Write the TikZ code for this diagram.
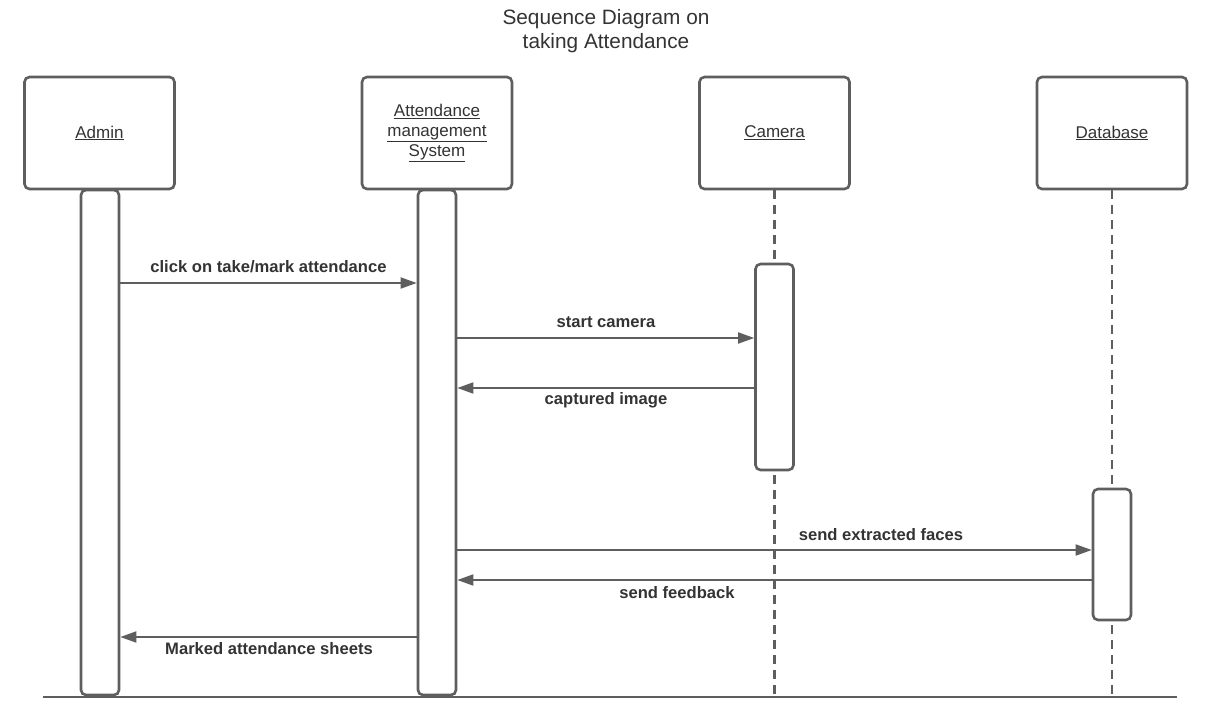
\documentclass[tikz,border=0pt]{standalone}
\usepackage{fontspec}
\setmainfont{Liberation Sans}
\usetikzlibrary{arrows.meta}
\definecolor{ln}{HTML}{5E5E5E}
\definecolor{tx}{HTML}{333333}
\tikzset{
  head/.style={draw=ln, line width=2.6pt, rounded corners=5pt, fill=white, minimum width=150pt, minimum height=112pt, inner sep=0pt, align=center, font=\fontsize{17}{20}\selectfont, text=tx},
  actbar/.style={draw=ln, line width=2.6pt, rounded corners=5pt, fill=white, minimum width=38pt, inner sep=0pt},
  life/.style={draw=ln, line width=2.6pt, dash pattern=on 9pt off 6pt},
  msg/.style={draw=ln, line width=1.8pt, -{Triangle[length=16pt,width=11pt]}},
  lbl/.style={font=\bfseries\fontsize{16.6}{19}\selectfont, text=tx, inner sep=0pt},
}
\begin{document}
\begin{tikzpicture}[x=1pt,y=-1pt]
\useasboundingbox (0,0) rectangle (1212,703);
\node[font=\fontsize{20.8}{24}\selectfont, text=tx, align=center] (title) at (606,31) {Sequence Diagram on\\taking Attendance};
% heads
\node[head] (admin) at (99.5,133) {\underline{Admin}};
\node[head] (ams) at (437,133) {\underline{Attendance}\\\underline{management}\\\underline{System}};
\node[head] (cam) at (774.5,133) {\underline{Camera}};
\node[head] (db) at (1112,133) {\underline{Database}};
% lifelines
\coordinate (camend) at (774.5,695);
\coordinate (dbend) at (1112,695);
\draw[life] (cam.south) -- (camend);
\draw[life] (db.south) -- (dbend);
% activation bars
\node[actbar, minimum height=505pt] (adminbar) at (100,442.5) {};
\node[actbar, minimum height=505pt] (amsbar) at (437,442.5) {};
\node[actbar, minimum height=206pt] (cambar) at (774.5,367) {};
\node[actbar, minimum height=131pt] (dbbar) at (1112,554.5) {};
% base line
\coordinate (bl) at (43,697);
\coordinate (br) at (1177,697);
\draw[ln, line width=2.8pt] (bl) -- (br);
% messages
\draw[msg] (adminbar.east |- 0,283) -- (amsbar.west |- 0,283);
\node[lbl] (l1) at (268.5,267) {click on take/mark attendance};
\draw[msg] (amsbar.east |- 0,338) -- (cambar.west |- 0,338);
\node[lbl] (l2) at (606,322) {start camera};
\draw[msg] (cambar.west |- 0,388) -- (amsbar.east |- 0,388);
\node[lbl] (l3) at (606,400) {captured image};
\draw[msg] (amsbar.east |- 0,550) -- (dbbar.west |- 0,550);
\node[lbl] (l4) at (881,535) {send extracted faces};
\draw[msg] (dbbar.west |- 0,580) -- (amsbar.east |- 0,580);
\node[lbl] (l5) at (677,593) {send feedback};
\draw[msg] (amsbar.west |- 0,637) -- (adminbar.east |- 0,637);
\node[lbl] (l6) at (269,649) {Marked attendance sheets};
\end{tikzpicture}
\end{document}
